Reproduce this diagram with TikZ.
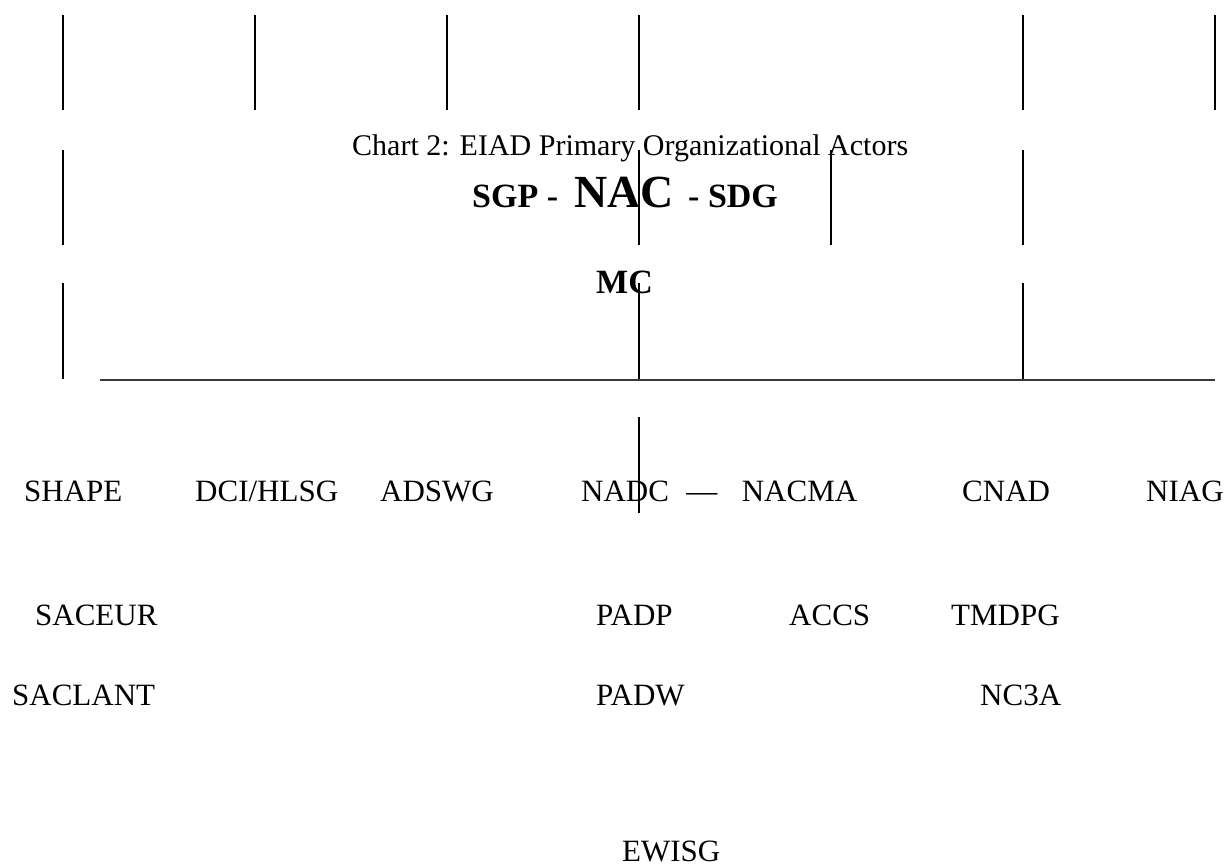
\documentclass[tikz,border=0pt]{standalone}
\usepackage{fontspec}
\setmainfont{Liberation Serif}
\usetikzlibrary{positioning}
\definecolor{ink}{HTML}{000000}
\definecolor{rule}{HTML}{3A3A3A}
\tikzset{
  every node/.style = {text=ink, inner sep=0pt, anchor=base west},
  eaname/.style  = {font=\fontsize{31}{31}\selectfont},
  eatitle/.style = {font=\fontsize{30}{30}\selectfont},
  eahead/.style  = {font=\fontsize{34}{34}\selectfont\bfseries},
  eabig/.style   = {font=\fontsize{46}{46}\selectfont},
  eatick/.style  = {draw=ink, line width=1.8pt},
  earule/.style  = {draw=rule, line width=2pt},
}

\begin{document}
\begin{tikzpicture}[x=1pt, y=-1pt]
\useasboundingbox (0,0) rectangle (1227,867);

\foreach \x in {63,255,447,639,1023,1215} \draw[eatick] (\x,15) -- (\x,110);
\foreach \x in {63,639,831,1023} \draw[eatick] (\x,150) -- (\x,245);
\foreach \x in {63,639,1023} \draw[eatick] (\x,283) -- (\x,379);
\draw[eatick] (639,417) -- (639,513);

\node[eatitle] (title) at (352,155) {Chart 2: EIAD Primary Organizational Actors};
\node[eahead] (sgp) at (472,207) {SGP -};
\node[eabig]  (nac) at (574,207) {\textbf{NAC}};
\node[eahead] (sdg) at (688,207) {- SDG};
\node[eahead] (mc)  at (596,293) {MC};

\draw[earule] (100,380) -- (1215,380);

\node[eaname] (shape) at (24,501)   {SHAPE};
\node[eaname] (dci)   at (195,501)  {DCI/HLSG};
\node[eaname] (adswg) at (380,501)  {ADSWG};
\node[eaname] (nadc)  at (581,501)  {NADC};
\node[eaname, right=17pt of nadc.base east, anchor=base west] (dash) {—};
\node[eaname, right=24pt of dash.base east, anchor=base west] (nacma) {NACMA};
\node[eaname] (cnad)  at (962,501)  {CNAD};
\node[eaname] (niag)  at (1146,501) {NIAG};

\node[eaname] (saceur) at (35,625)  {SACEUR};
\node[eaname] (padp)   at (596,625) {PADP};
\node[eaname] (accs)   at (789,625) {ACCS};
\node[eaname] (tmdpg)  at (951,625) {TMDPG};

\node[eaname] (saclant) at (12,705)  {SACLANT};
\node[eaname] (padw)    at (596,705) {PADW};
\node[eaname] (nc3a)    at (980,705) {NC3A};

\node[eaname] (ewisg) at (622,861) {EWISG};
\end{tikzpicture}
\end{document}
